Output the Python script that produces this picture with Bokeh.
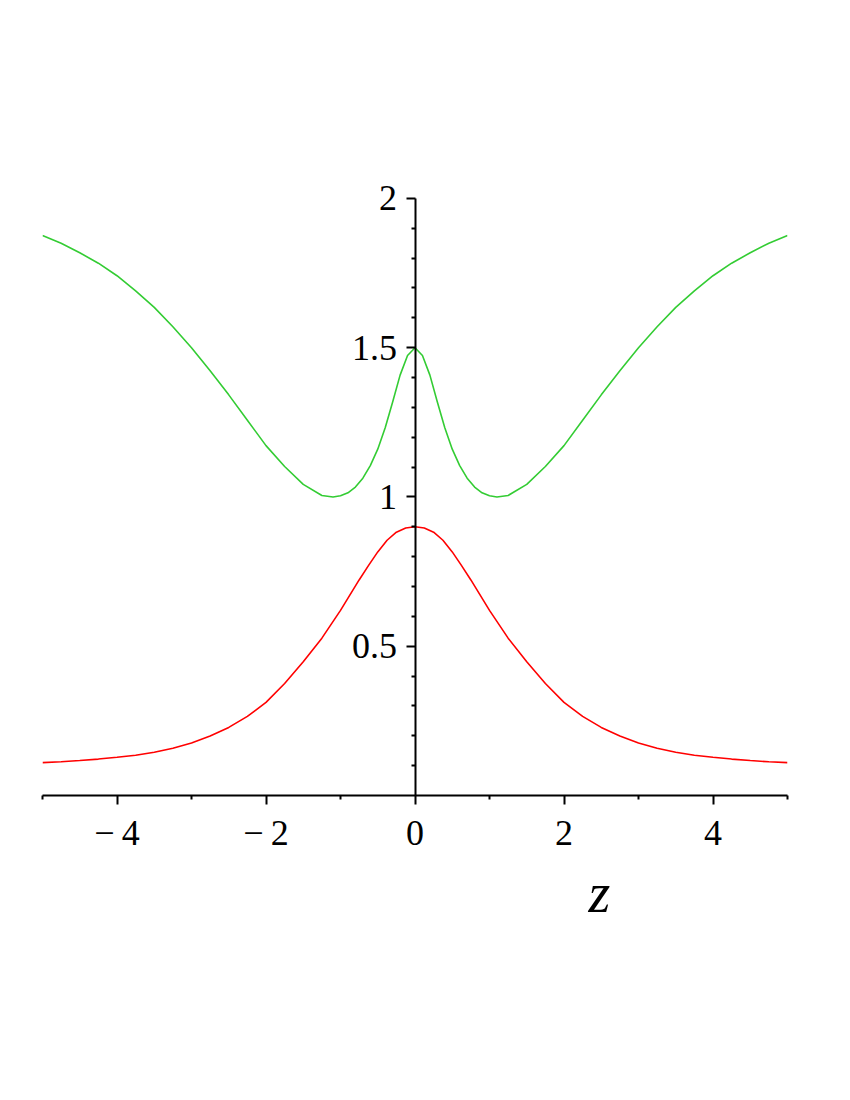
from bokeh.plotting import figure
from bokeh.models import LinearAxis, FixedTicker, CustomJSTickFormatter, Range1d, Title
from bokeh.embed import file_html
from bokeh.resources import INLINE

# ---- data ----
z_red = [-5, -4.75, -4.5, -4.25, -4, -3.75, -3.5, -3.25, -3, -2.75, -2.5, -2.25, -2, -1.75, -1.5, -1.25,
         -1, -0.75, -0.625, -0.5, -0.375, -0.25, -0.125, 0, 0.125, 0.25, 0.375, 0.5, 0.625, 0.75, 1, 1.25,
         1.5, 1.75, 2, 2.25, 2.5, 2.75, 3, 3.25, 3.5, 3.75, 4, 4.25, 4.5, 4.75, 5]
red = [0.110, 0.113, 0.117, 0.122, 0.128, 0.135, 0.145, 0.158, 0.176, 0.199, 0.228, 0.265, 0.312, 0.375, 0.448, 0.527,
       0.620, 0.722, 0.770, 0.816, 0.855, 0.882, 0.896, 0.900, 0.896, 0.882, 0.855, 0.816, 0.770, 0.722, 0.620, 0.527,
       0.448, 0.375, 0.312, 0.265, 0.228, 0.199, 0.176, 0.158, 0.145, 0.135, 0.128, 0.122, 0.117, 0.113, 0.110]

z_green = [-5, -4.75, -4.5, -4.25, -4, -3.75, -3.5, -3.25, -3, -2.75, -2.5, -2.25, -2, -1.75, -1.5, -1.25,
           -1.1, -1, -0.9, -0.8, -0.7, -0.6, -0.5, -0.4, -0.3, -0.2, -0.1, 0,
           0.1, 0.2, 0.3, 0.4, 0.5, 0.6, 0.7, 0.8, 0.9, 1, 1.1,
           1.25, 1.5, 1.75, 2, 2.25, 2.5, 2.75, 3, 3.25, 3.5, 3.75, 4, 4.25, 4.5, 4.75, 5]
green = [1.876, 1.850, 1.818, 1.783, 1.741, 1.690, 1.635, 1.570, 1.500, 1.423, 1.342, 1.257, 1.172, 1.102, 1.042, 1.005,
         1.000, 1.004, 1.014, 1.033, 1.063, 1.105, 1.160, 1.232, 1.318, 1.408, 1.474, 1.500,
         1.474, 1.408, 1.318, 1.232, 1.160, 1.105, 1.063, 1.033, 1.014, 1.004, 1.000,
         1.005, 1.042, 1.102, 1.172, 1.257, 1.342, 1.423, 1.500, 1.570, 1.635, 1.690, 1.741, 1.783, 1.818, 1.850, 1.876]

x_major = [-4, -2, 0, 2, 4]
x_minor = [-5, -3, -1, 1, 3, 5]
x_labels = ["\u2212\u20094", "\u2212\u20092", "0", "2", "4"]
y_major = [0.5, 1, 1.5, 2]
y_minor = [0.1, 0.2, 0.3, 0.4, 0.6, 0.7, 0.8, 0.9, 1.1, 1.2, 1.3, 1.4, 1.6, 1.7, 1.8, 1.9]
y_labels = ["0.5", "1", "1.5", "2"]
x_title = "z"

FONT = "Liberation Serif"

p = figure(frame_width=745, frame_height=615,
           x_range=Range1d(-5, 5), y_range=Range1d(0, 2.06),
           x_axis_type=None, y_axis_type=None,
           output_backend="svg", toolbar_location=None,
           min_border_left=42, min_border_top=180, min_border_right=40, min_border_bottom=40)
p.outline_line_color = None
p.background_fill_color = "white"
p.border_fill_color = "white"

p.line(z_red, red, line_color="#FF0000", line_width=1.6)
p.line(z_green, green, line_color="#33CC33", line_width=1.6)

fmt_js = "const i = tvals.indexOf(tick); return i >= 0 ? tlabels[i] : '';"

xaxis = LinearAxis(
    ticker=FixedTicker(ticks=x_major, minor_ticks=x_minor),
    formatter=CustomJSTickFormatter(args=dict(tvals=x_major, tlabels=x_labels), code=fmt_js),
)
yaxis = LinearAxis(
    ticker=FixedTicker(ticks=y_major, minor_ticks=y_minor),
    formatter=CustomJSTickFormatter(args=dict(tvals=y_major, tlabels=y_labels), code=fmt_js),
    fixed_location=0,
    bounds=(0, 2),
)
for ax in (xaxis, yaxis):
    ax.axis_line_color = "black"
    ax.axis_line_width = 2
    ax.major_tick_line_color = "black"
    ax.major_tick_line_width = 2
    ax.minor_tick_line_color = "black"
    ax.minor_tick_line_width = 2
    ax.major_tick_in = 0
    ax.minor_tick_in = 0
    ax.major_tick_out = 9
    ax.minor_tick_out = 4
    ax.major_label_text_font = FONT
    ax.major_label_text_font_size = "36px"
    ax.major_label_text_color = "black"
    ax.major_label_text_font_style = "normal"
xaxis.major_label_standoff = 8
yaxis.major_label_standoff = 9

p.add_layout(xaxis, "below")
p.add_layout(yaxis, "left")

p.add_layout(Title(text=x_title, align="left", offset=546, standoff=8,
                   text_font=FONT, text_font_style="italic", text_font_size="56px",
                   text_color="black"), "below")

open("out.html", "w").write(file_html(p, INLINE))
